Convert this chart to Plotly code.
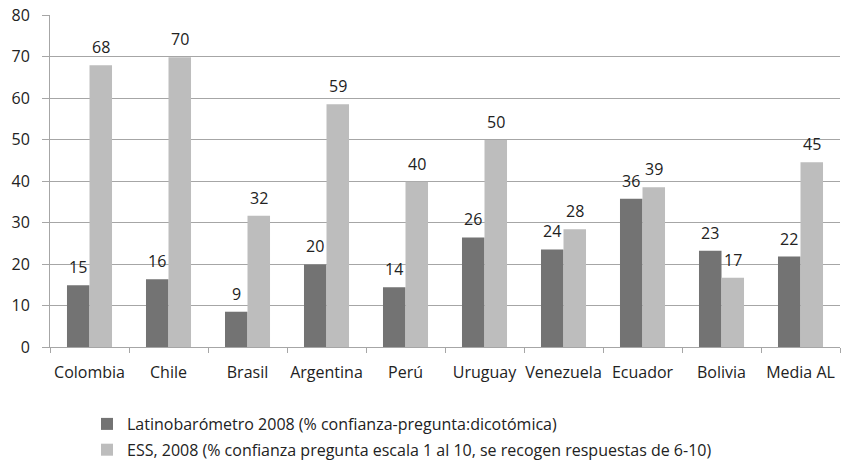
import math
import plotly.graph_objects as go

categories = ["Colombia", "Chile", "Brasil", "Argentina", "Perú", "Uruguay",
              "Venezuela", "Ecuador", "Bolivia", "Media AL"]
latino = [14.9, 16.3, 8.5, 19.9, 14.4, 26.4, 23.5, 35.7, 23.2, 21.8]
ess = [67.9, 69.8, 31.6, 58.5, 39.8, 49.9, 28.4, 38.5, 16.7, 44.5]
name_latino = "Latinobarómetro 2008 (% confianza-pregunta:dicotómica)"
name_ess = "ESS, 2008 (% confianza pregunta escala 1 al 10, se recogen respuestas de 6-10)"

FONT = "'Open Sans', Lato, sans-serif"
FS = 16
DARK = "#737373"
LIGHT = "#bdbdbd"
GRID = "#a6a6a6"
TXT = "#222222"

fig = go.Figure()
fig.add_trace(go.Bar(x=categories, y=latino, name=name_latino, marker_color=DARK,
                     marker_line_width=0, legendgroup="a"))
fig.add_trace(go.Bar(x=categories, y=ess, name=name_ess, marker_color=LIGHT,
                     marker_line_width=0, legendgroup="b"))

W, H = 842, 461
ml, mr, mt, mb = 50, 2, 15, 114
pw = W - ml - mr
ph = H - mt - mb
bargap = 0.43
barw = pw / len(categories) * (1 - bargap) / 2


def label(v):
    return str(int(math.floor(v + 0.5)))


for vals, shift in ((latino, -barw / 2), (ess, barw / 2)):
    for c, v in zip(categories, vals):
        fig.add_annotation(x=c, y=v, text=label(v), showarrow=False,
                           xshift=shift, yshift=5, yanchor="bottom",
                           font=dict(family=FONT, size=FS, color=TXT))

fig.update_layout(
    width=W, height=H,
    margin=dict(l=ml, r=mr, t=mt, b=mb, autoexpand=False),
    paper_bgcolor="white", plot_bgcolor="white",
    barmode="group", bargap=bargap, bargroupgap=0,
    font=dict(family=FONT, size=FS, color=TXT),
    showlegend=True,
    legend=dict(orientation="v", x=(87 - ml) / pw, xanchor="left",
                y=-(407 - (H - mb)) / ph, yanchor="top",
                font=dict(family=FONT, size=FS, color=TXT),
                bgcolor="rgba(0,0,0,0)", traceorder="grouped",
                tracegroupgap=2),
    xaxis=dict(showline=True, linecolor=GRID, linewidth=1, ticks="outside",
               tickson="boundaries", ticklen=5, tickcolor=GRID, showgrid=False,
               ticklabelstandoff=11, tickangle=0,
               tickfont=dict(family=FONT, size=FS, color=TXT)),
    yaxis=dict(range=[0, 80], dtick=10, showline=True, linecolor=GRID, linewidth=1,
               ticks="outside", ticklen=7, tickcolor=GRID, showgrid=True,
               gridcolor=GRID, gridwidth=1, zeroline=False, ticklabelstandoff=9,
               tickfont=dict(family=FONT, size=FS, color=TXT)),
)

# remove the default 8px page margin so the figure sits at the window's top-left
fig.write_html("out.html", config={"displayModeBar": False},
               post_script="document.body.style.margin='0';")
